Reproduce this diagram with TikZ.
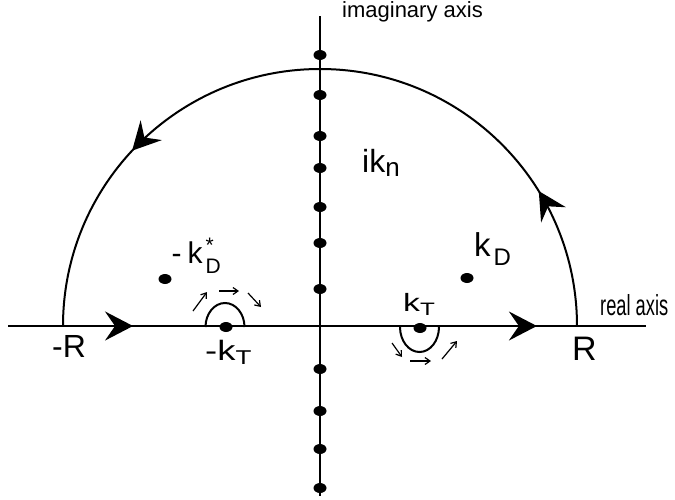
\documentclass[tikz,border=0pt]{standalone}
\usepackage{fontspec}
\setmainfont{Liberation Sans}
\usetikzlibrary{arrows.meta,decorations.markings,shapes.geometric}
\newcommand\fsz[1]{\fontsize{#1}{#1}\selectfont}
\begin{document}
\begin{tikzpicture}[x=1pt,y=-1pt,
  ax/.style={line width=2.2pt},
  cont/.style={line width=2pt},
  bigtip/.tip={Stealth[length=28pt,width=29pt,inset=10pt]},
  pole/.style={ellipse,fill=black,inner sep=0pt,minimum width=13pt,minimum height=10pt},
  small/.style={line width=1.2pt,-{Straight Barb[length=5pt,width=7pt]}},
  lbl/.style={inner sep=0pt,anchor=base west}]
\useasboundingbox (0,0) rectangle (675,499);
% axes
\coordinate (rl) at (8,326);
\coordinate (rr) at (646,326);
\coordinate (it) at (320,16);
\coordinate (ib) at (320,496);
\draw[ax,postaction={decorate},decoration={markings,
  mark=at position 0.196 with {\arrow{bigtip}},
  mark=at position 0.829 with {\arrow{bigtip}}}] (rl) -- (rr);
\draw[ax] (it) -- (ib);
% big semicircle
\coordinate (Rp) at (577,326);
\draw[cont,postaction={decorate},decoration={markings,
  mark=at position 0.176 with {\arrow{bigtip}},
  mark=at position 0.761 with {\arrow{bigtip}}}]
  (Rp) arc[start angle=0,end angle=-180,radius=257];
% poles on imaginary axis
\foreach \y [count=\i] in {55,95,136,168,207,243,289,369,411,449,488}
  \node[pole] (n\i) at (320,\y) {};
% k_D and -k_D^*
\node[pole] (kd) at (467,278) {};
\node[pole] (mkd) at (165,279) {};
% -k_T and k_T
\node[pole] (mkt) at (226,327) {};
\node[pole] (kt) at (420,328) {};
\draw[cont] (205.5,327) arc[start angle=180,end angle=360,x radius=19.5,y radius=24];
\draw[cont] (400,327) arc[start angle=180,end angle=0,x radius=19.5,y radius=25];
% small arrows
\draw[small] (193,311) -- (207,292);
\draw[small] (219,291) -- (239,291);
\draw[small] (248,293) -- (261,307);
\draw[small] (392,343) -- (402,357);
\draw[small] (410,361) -- (431,361);
\draw[small] (442,359) -- (457,341);
% labels
\node[lbl] (lim) at (342,17) {\fsz{22}imaginary axis};
\node[lbl] (lre) at (600,315) {\scalebox{0.63}[1]{\fsz{29}real axis}};
\node[lbl] (lmR) at (52,357) {\fsz{32}-R};
\node[lbl] (lR) at (572,360) {\fsz{34}R};
\node[lbl] (lkn) at (362,172) {\fsz{32}ik\raisebox{-4pt}{\fsz{26}n}};
\node[lbl] (lkd) at (474,256) {\fsz{33}k\hspace{3pt}\raisebox{-9pt}{\fsz{24}D}};
\node[lbl] (lmkd) at (171.5,263) {\fsz{30}-\hspace{6pt}k\hspace{3pt}\rlap{\raisebox{11pt}{\fsz{21}*}}\raisebox{-10pt}{\fsz{21}D}};
\node[lbl] (lkt) at (403,311) {\scalebox{1.35}[1]{\fsz{25}k\raisebox{-4pt}{\fsz{18}T}}};
\node[lbl] (lmkt) at (205,360) {\scalebox{1.3}[1]{\fsz{28}-k\raisebox{-4pt}{\fsz{20}T}}};
\end{tikzpicture}
\end{document}
